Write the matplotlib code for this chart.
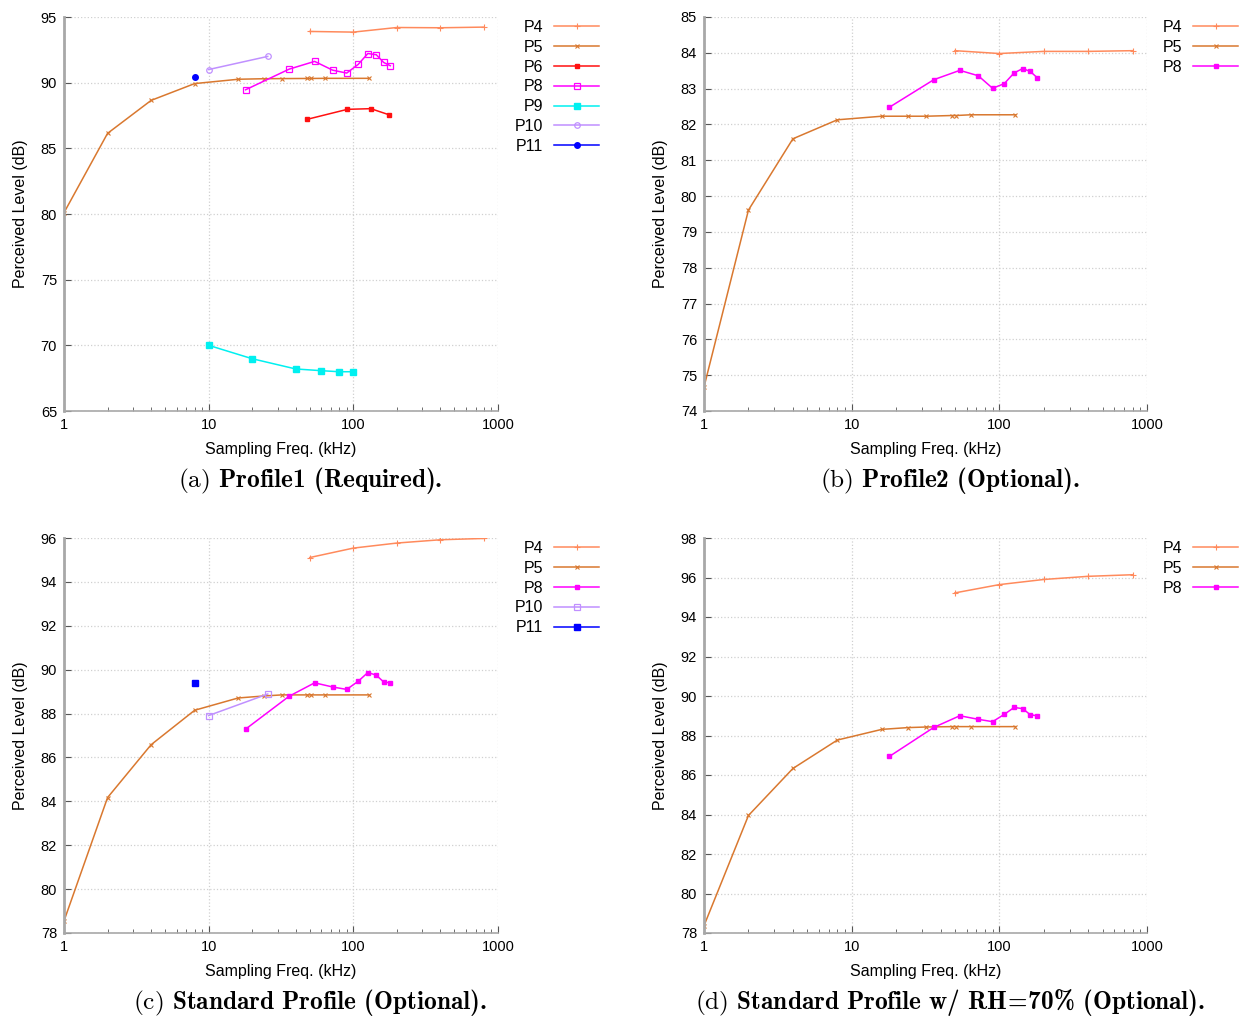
import numpy as np
import matplotlib
matplotlib.use("Agg")
import matplotlib.pyplot as plt
from matplotlib.ticker import FixedLocator, NullFormatter, LogLocator

plt.rcParams['font.family'] = ['Liberation Sans', 'DejaVu Sans']
plt.rcParams['mathtext.fontset'] = 'custom'
plt.rcParams['mathtext.rm'] = 'cmr10'
plt.rcParams['mathtext.bf'] = 'cmb10'

# sampling frequencies (kHz)
f_p4 = [50, 100, 200, 400, 800]
f_p5 = [1, 2, 4, 8, 16, 24, 32, 48, 51.2, 64, 128]
f_p6 = [48, 91, 132, 176]
f_p8 = [18, 36, 54, 72, 90, 108, 126, 144, 162, 180]
f_p9 = [10, 20, 40, 60, 80, 100]
f_p10 = [10, 25.6]
f_p11 = [8]

# (a) Profile1
a_p4 = [93.9, 93.85, 94.2, 94.18, 94.23]
a_p5 = [80.1, 86.14, 88.65, 89.93, 90.26, 90.3, 90.31, 90.32, 90.32, 90.33, 90.33]
a_p6 = [87.21, 87.97, 88.02, 87.56]
a_p8 = [89.46, 91.03, 91.62, 90.95, 90.73, 91.39, 92.22, 92.13, 91.54, 91.29]
a_p9 = [70.0, 68.98, 68.2, 68.07, 67.99, 67.99]
a_p10 = [91.0, 92.0]
a_p11 = [90.42]

# (b) Profile2
b_p4 = [84.06, 83.98, 84.04, 84.04, 84.06]
b_p5 = [74.67, 79.61, 81.6, 82.13, 82.23, 82.23, 82.23, 82.25, 82.25, 82.27, 82.27]
b_p8 = [82.48, 83.25, 83.51, 83.36, 83.01, 83.14, 83.44, 83.56, 83.48, 83.31]

# (c) Standard Profile
c_p4 = [95.11, 95.54, 95.77, 95.92, 95.98]
c_p5 = [78.55, 84.17, 86.58, 88.15, 88.71, 88.8, 88.85, 88.85, 88.85, 88.85, 88.85]
c_p8 = [87.29, 88.79, 89.4, 89.21, 89.1, 89.47, 89.87, 89.75, 89.44, 89.4]
c_p10 = [87.91, 88.89]
c_p11 = [89.4]

# (d) Standard Profile w/ RH=70%
d_p4 = [95.22, 95.64, 95.9, 96.06, 96.14]
d_p5 = [78.37, 83.95, 86.33, 87.77, 88.31, 88.4, 88.43, 88.45, 88.45, 88.45, 88.45]
d_p8 = [86.94, 88.41, 89.0, 88.82, 88.7, 89.07, 89.42, 89.36, 89.05, 89.0]

C4 = '#ff8a5c'
C5 = '#d9782f'
C6 = '#ff1010'
C8 = '#ff00ff'
C9 = '#00f0f0'
C10 = '#c090ff'
C11 = '#0000ff'

W, H = 1243, 1018
fig = plt.figure(figsize=(W / 100, H / 100), dpi=100)


def make_ax(l, r, t, b):
    return fig.add_axes([l / W, 1 - b / H, (r - l) / W, (b - t) / H])


def style(ax, ylim, yticks, caption, cx, cy):
    ax.set_xscale('log')
    ax.set_xlim(1, 1000)
    ax.set_ylim(*ylim)
    ax.set_yticks(yticks)
    ax.xaxis.set_major_locator(FixedLocator([1, 10, 100, 1000]))
    ax.set_xticklabels(['1', '10', '100', '1000'])
    ax.xaxis.set_minor_locator(LogLocator(base=10, subs=np.arange(2, 10)))
    ax.xaxis.set_minor_formatter(NullFormatter())
    for s in ['top', 'right']:
        ax.spines[s].set_visible(False)
    ax.spines['left'].set_color('#a8a8a8')
    ax.spines['left'].set_linewidth(2.0)
    ax.spines['bottom'].set_color('#a8a8a8')
    ax.spines['bottom'].set_linewidth(1.2)
    ax.tick_params(which='both', direction='in', color='#555555', labelsize=10.5, pad=5)
    ax.tick_params(which='major', length=5, width=0.8)
    ax.tick_params(which='minor', length=3, width=0.6)
    ax.grid(True, which='major', ls=':', color='#d0d0d0', lw=0.9)
    ax.set_xlabel('Sampling Freq. (kHz)', fontsize=11.5, labelpad=7)
    ax.set_ylabel('Perceived Level (dB)', fontsize=11.5, labelpad=9)
    fig.text(cx / W, 1 - cy / H, caption, ha='center', va='center', fontsize=18.2)


def add_legend(ax, x, y):
    ax.legend(loc='upper right', bbox_to_anchor=(x / W, 1 - y / H), bbox_transform=fig.transFigure,
              frameon=False, markerfirst=False, fontsize=11.5, handlelength=2.8,
              handletextpad=0.7, labelspacing=0.3, borderpad=0, borderaxespad=0)


lw = 1.1

# (a)
ax = make_ax(64, 498, 17, 411)
ax.plot(f_p4, a_p4, color=C4, lw=lw, marker='+', ms=5, mew=0.8, label='P4')
ax.plot(f_p5, a_p5, color=C5, lw=lw, marker='x', ms=3.5, mew=0.8, label='P5')
ax.plot(f_p6, a_p6, color=C6, lw=lw, marker='s', ms=3.5, label='P6')
ax.plot(f_p8, a_p8, color=C8, lw=lw, marker='s', ms=4.5, mfc='none', mew=0.9, label='P8')
ax.plot(f_p9, a_p9, color=C9, lw=lw, marker='s', ms=4, label='P9')
ax.plot(f_p10, a_p10, color=C10, lw=lw, marker='o', ms=4, mfc='none', mew=0.9, label='P10')
ax.plot(f_p11, a_p11, color=C11, lw=lw, marker='o', ms=4, label='P11')
style(ax, (65, 95), range(65, 96, 5), r'$\mathrm{(a)}\ \mathbf{Profile1\ (Required).}$', 310, 481)
add_legend(ax, 599, 20)

# (b)
ax = make_ax(704, 1147, 17, 411)
ax.plot(f_p4, b_p4, color=C4, lw=lw, marker='+', ms=5, mew=0.8, label='P4')
ax.plot(f_p5, b_p5, color=C5, lw=lw, marker='x', ms=3.5, mew=0.8, label='P5')
ax.plot(f_p8, b_p8, color=C8, lw=lw, marker='s', ms=3.5, label='P8')
style(ax, (74, 85), range(74, 86), r'$\mathrm{(b)}\ \mathbf{Profile2\ (Optional).}$', 950, 481)
add_legend(ax, 1238, 20)

# (c)
ax = make_ax(64, 498, 538, 933)
ax.plot(f_p4, c_p4, color=C4, lw=lw, marker='+', ms=5, mew=0.8, label='P4')
ax.plot(f_p5, c_p5, color=C5, lw=lw, marker='x', ms=3.5, mew=0.8, label='P5')
ax.plot(f_p8, c_p8, color=C8, lw=lw, marker='s', ms=3.5, label='P8')
ax.plot(f_p10, c_p10, color=C10, lw=lw, marker='s', ms=4.5, mfc='none', mew=0.9, label='P10')
ax.plot(f_p11, c_p11, color=C11, lw=lw, marker='s', ms=4.5, label='P11')
style(ax, (78, 96), range(78, 97, 2), r'$\mathrm{(c)}\ \mathbf{Standard\ Profile\ (Optional).}$', 310, 1003)
add_legend(ax, 599, 541)

# (d)
ax = make_ax(704, 1147, 538, 933)
ax.plot(f_p4, d_p4, color=C4, lw=lw, marker='+', ms=5, mew=0.8, label='P4')
ax.plot(f_p5, d_p5, color=C5, lw=lw, marker='x', ms=3.5, mew=0.8, label='P5')
ax.plot(f_p8, d_p8, color=C8, lw=lw, marker='s', ms=3.5, label='P8')
style(ax, (78, 98), range(78, 99, 2),
      r'$\mathrm{(d)}\ \mathbf{Standard\ Profile\ w/\ RH\!{=}\!70\%\ (Optional).}$', 950, 1003)
add_legend(ax, 1238, 541)

fig.savefig('out.png', dpi=100)
